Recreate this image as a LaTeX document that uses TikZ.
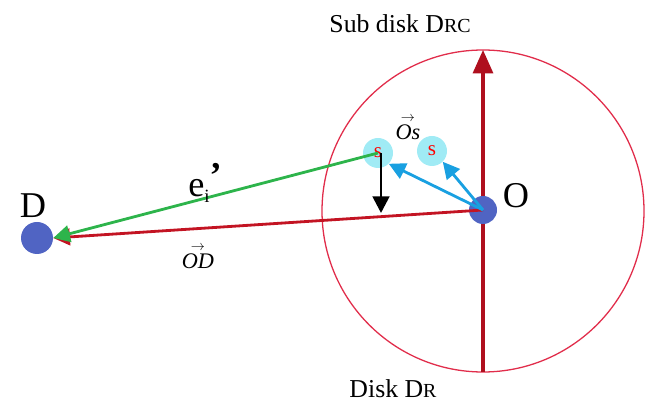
\documentclass[tikz,border=0pt]{standalone}
\usepackage{fontspec}
\setmainfont{Liberation Serif}
\usepackage{tikz}
\usetikzlibrary{arrows.meta}
\definecolor{diskred}{RGB}{225,45,75}
\definecolor{axisred}{RGB}{175,15,30}
\definecolor{linkred}{RGB}{195,20,35}
\definecolor{egreen}{RGB}{45,180,75}
\definecolor{osblue}{RGB}{25,160,225}
\definecolor{dotblue}{RGB}{80,100,195}
\definecolor{subcyan}{RGB}{160,235,245}
\newcommand{\vecl}[1]{\shortstack{\fontsize{12}{8}\selectfont$\rightarrow$\\\textit{#1}}}
\tikzset{
  dot/.style={circle, fill=dotblue, minimum size=#1, inner sep=0pt},
  sub/.style={circle, fill=subcyan, minimum size=30*0.03cm, inner sep=0pt,
              text=red, font=\fontsize{18}{18}\selectfont},
  big/.style={font=\fontsize{31}{31}\selectfont},
  lbl/.style={font=\fontsize{22}{22}\selectfont},
  vlbl/.style={font=\fontsize{19}{19}\selectfont, inner sep=0pt},
  vec/.style={-{Triangle[length=5mm,width=5mm]}, line width=2.4pt}
}

\begin{document}
\begin{tikzpicture}[x=0.03cm,y=-0.03cm]
  \useasboundingbox (0,0) rectangle (648,405);
  % disk and its axis
  \draw[diskred, line width=1.1pt] (483,211) circle (161);
  \coordinate (bot) at (483,372);
  \coordinate (top) at (483,50);
  \draw[axisred, line width=2.6pt, -{Triangle[length=7mm,width=6mm]}] (bot) -- (top);
  % points
  \node[dot=28*0.03cm] (o) at (483,210) {};
  \node[dot=32*0.03cm] (d) at (37,238) {};
  \node[sub] (s1) at (378,153) {s};
  \node[sub] (s2) at (432,151) {s};
  \coordinate (foot) at (381,213);
  % vectors
  \draw[vec, linkred] (o.center) -- (d.east);
  \draw[vec, egreen] (s1.center) -- (d.east);
  \draw[vec, osblue] (o.center) -- (s1.south east);
  \draw[vec, osblue] (o.center) -- (s2.south east);
  \draw[vec, black] (foot |- s1.center) -- (foot);
  % labels
  \node[big] (olbl) at (516,196) {O};
  \node[big] (dlbl) at (33,206) {D};
  \node[big] (elbl) at (205,183) {e\raisebox{-0.35ex}{\fontsize{16}{16}\selectfont i}\raisebox{0.5ex}{\textbf{'}}};
  \node[vlbl] (odlbl) at (198,257) {\vecl{OD}};
  \node[vlbl] (oslbl) at (408,128) {\vecl{Os}};
  \node[lbl] (rclbl) at (400,24) {Sub disk D{\fontsize{17}{17}\selectfont RC}};
  \node[lbl] (rlbl) at (393,389) {Disk D{\fontsize{17}{17}\selectfont R}};
\end{tikzpicture}
\end{document}
